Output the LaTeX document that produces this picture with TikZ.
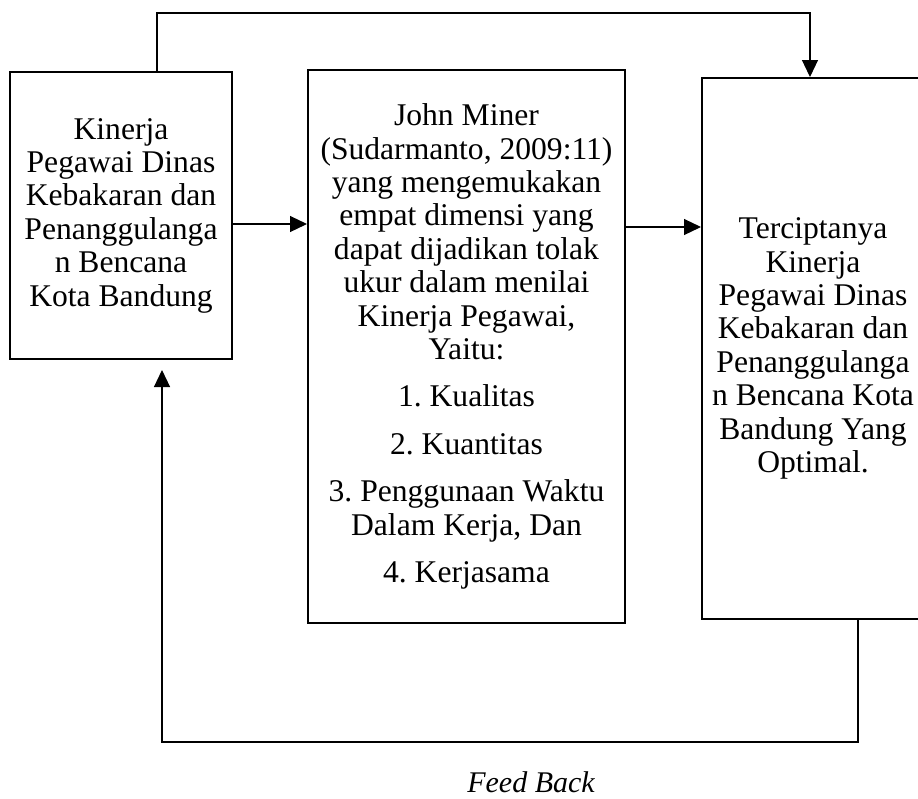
\documentclass[tikz,border=0pt]{standalone}
\usepackage{fontspec}
\setmainfont{Liberation Serif}
\usetikzlibrary{arrows.meta}
\frenchspacing

\begin{document}
\begin{tikzpicture}[x=0.5pt,y=-0.5pt,
    box/.style={draw, line width=1pt, inner sep=0pt, align=center,
      font=\fontsize{15.8}{16.7}\selectfont},
    link/.style={line width=0.6pt, -{Triangle[length=8.5pt,width=8pt]}}]

      \useasboundingbox (0,0) rectangle (918,799);

      \begin{scope}[every node/.style={box}]
        \node[minimum width=111pt, minimum height=143.5pt] (1) at (121,215.5)
          {Kinerja\\ Pegawai Dinas\\ Kebakaran dan\\ Penanggulanga\\ n Bencana\\ Kota Bandung};
        \node[minimum width=158.5pt, minimum height=276.5pt] (2) at (466.5,346.5)
          {John Miner\\ (Sudarmanto, 2009:11)\\ yang mengemukakan\\ empat dimensi yang\\
           dapat dijadikan tolak\\ ukur dalam menilai\\ Kinerja Pegawai,\\ Yaitu:\\[7pt]
           1. Kualitas\\[7pt] 2. Kuantitas\\[7pt] 3. Penggunaan Waktu\\ Dalam Kerja, Dan\\[7pt]
           4. Kerjasama};
        \node[minimum width=111pt, minimum height=270.5pt] (3) at (813,348.5)
          {Terciptanya\\ Kinerja\\ Pegawai Dinas\\ Kebakaran dan\\ Penanggulanga\\
           n Bencana Kota\\ Bandung Yang\\ Optimal.};
      \end{scope}

      % bends of the loop lines
      \coordinate (t1) at (157,13);
      \coordinate (t3) at (810,13);
      \coordinate (b1) at (162,742);
      \coordinate (b3) at (858,742);
      \coordinate (p12) at (0,224);
      \coordinate (p23) at (0,227);

      \draw[link] (1.east |- p12) -- (2.west |- p12);
      \draw[link] (2.east |- p23) -- (3.west |- p23);
      \draw[link] (1.north -| t1) -- (t1) -- (t3) -- (3.north -| t3);
      \draw[link, shorten >=5pt] (3.south -| b3) -- (b3) -- (b1) -- (1.south -| b1);

      \node[font=\fontsize{15}{17}\selectfont\itshape] (fb) at (531,782) {Feed Back};

    \end{tikzpicture}
\end{document}
